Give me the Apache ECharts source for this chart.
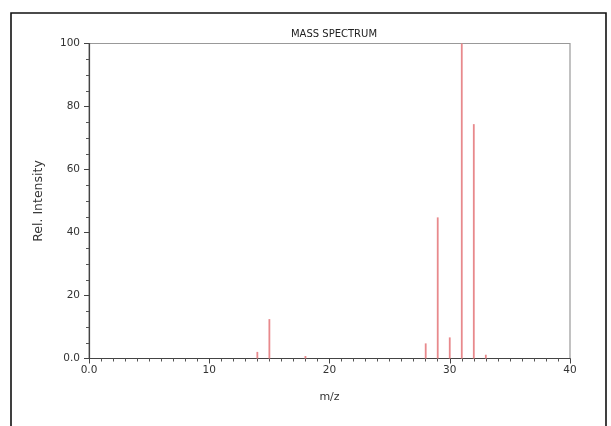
<!DOCTYPE html>
<html>
<head>
<meta charset="utf-8">
<script src="https://cdn.jsdelivr.net/npm/echarts@6/dist/echarts.min.js"></script>
<style>html,body{margin:0;padding:0;background:#fff;}#c{width:611px;height:426px;}</style>
</head>
<body>
<div id="c"></div>
<script>
const mz = [14, 15, 18, 28, 29, 30, 31, 32, 33];
const intensity = [2.1, 12.5, 0.8, 4.8, 44.8, 6.7, 100, 74.4, 1.2];
const xTicks = [0, 10, 20, 30, 40];
const yTicks = [0, 20, 40, 60, 80, 100];

const chart = echarts.init(document.getElementById('c'), null, {renderer: 'canvas'});
const font = 'DejaVu Sans';
chart.setOption({
  animation: false,
  backgroundColor: '#fff',
  title: {
    text: 'MASS SPECTRUM', left: 329, top: 24, textAlign: 'center',
    textStyle: {fontFamily: font, fontSize: 10, fontWeight: 'normal', color: '#222'}
  },
  graphic: [{
    type: 'rect', shape: {x: 11, y: 13, width: 595, height: 430},
    style: {fill: 'none', stroke: '#111', lineWidth: 1.6}, silent: true, z: 100
  }],
  grid: {left: 89, right: 41, top: 43.5, bottom: 67.5, show: true, borderColor: '#999', borderWidth: 1.2, backgroundColor: 'transparent'},
  xAxis: {
    type: 'value', min: xTicks[0], max: xTicks[xTicks.length - 1], interval: 10,
    name: 'm/z', nameLocation: 'middle', nameGap: 33,
    nameTextStyle: {fontFamily: font, fontSize: 11, color: '#333'},
    axisLine: {show: true, onZero: false, lineStyle: {color: '#444', width: 1.2}},
    axisTick: {show: true, length: 5, inside: false, lineStyle: {color: '#444'}},
    minorTick: {show: true, splitNumber: 10, length: 3, lineStyle: {color: '#555'}},
    splitLine: {show: false},
    axisLabel: {fontFamily: font, fontSize: 10.5, color: '#333', margin: 6,
      formatter: v => v === 0 ? '0.0' : String(v)}
  },
  yAxis: {
    type: 'value', min: yTicks[0], max: yTicks[yTicks.length - 1], interval: 20,
    name: 'Rel. Intensity', nameLocation: 'middle', nameGap: 44,
    nameTextStyle: {fontFamily: font, fontSize: 12.5, color: '#333'},
    axisLine: {show: true, lineStyle: {color: '#444', width: 1.2}},
    axisTick: {show: true, length: 5, lineStyle: {color: '#444'}},
    minorTick: {show: true, splitNumber: 4, length: 3, lineStyle: {color: '#555'}},
    splitLine: {show: false},
    axisLabel: {fontFamily: font, fontSize: 10.5, color: '#333', margin: 9,
      formatter: v => v === 0 ? '0.0' : String(v)}
  },
  series: [{
    type: 'bar', barWidth: 1.8,
    itemStyle: {color: '#e8898c'},
    data: mz.map((m, i) => [m, intensity[i]])
  }]
});
</script>
</body>
</html>
